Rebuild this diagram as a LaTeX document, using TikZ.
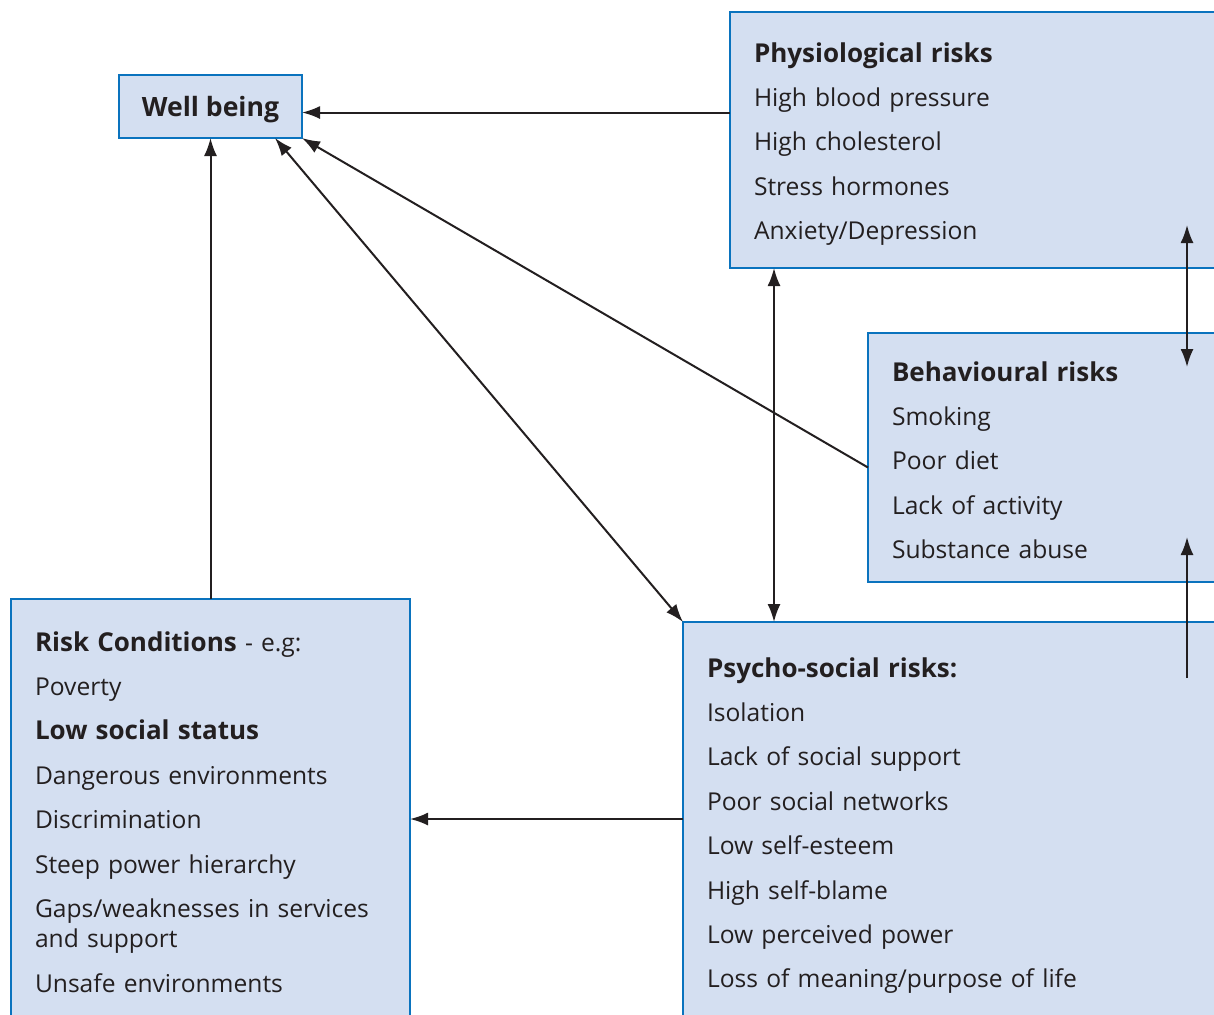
\documentclass[tikz,border=0pt]{standalone}
\usepackage{fontspec}
\setmainfont{Open Sans}
\usetikzlibrary{arrows.meta,positioning}
\definecolor{boxfill}{RGB}{212,223,241}
\definecolor{boxline}{RGB}{10,115,190}
\definecolor{ink}{RGB}{35,31,32}
\newcommand{\bfhead}[1]{{\fontsize{13}{22}\selectfont\bfseries #1}}

\begin{document}
\begin{tikzpicture}[
  x=0.5pt, y=0.5pt,
  font=\fontsize{12.3}{22.2}\selectfont,
  box/.style={draw=boxline, fill=boxfill, line width=1pt, align=left, inner xsep=12pt, inner ysep=0pt, outer sep=0pt, text=ink},
  arrow/.style={-{Latex[length=9pt,width=6.5pt]}, line width=1pt, draw=ink},
  biarrow/.style={arrow, {Latex[length=9pt,width=6.5pt]}-{Latex[length=9pt,width=6.5pt]}}
]
\useasboundingbox (0,0) rectangle (1214,-1014);
\clip (0,0) rectangle (1214,-1014);

\node[box, anchor=north west, align=center, inner xsep=0pt, minimum width=91.5pt, text height=20.5pt, text depth=11pt] (wb) at (119,-75) {\fontsize{13.3}{22}\selectfont\bfseries Well being};

\node[box, anchor=north west, text width=236pt, text height=25pt, text depth=103pt] (phys) at (730,-12) {
  \bfhead{Physiological risks}\\
  High blood pressure\\
  High cholesterol\\
  Stress hormones\\
  Anxiety/Depression
};
\node[box, text width=200pt, text height=24pt, text depth=100.5pt, below right=32.5pt and 69pt of phys.south west] (behav) {
  \bfhead{Behavioural risks}\\
  Smoking\\
  Poor diet\\
  Lack of activity\\
  Substance abuse
};
\node[box, text width=280pt, text height=27.5pt, text depth=200pt, below right=20pt and -92.5pt of behav.south west] (psycho) {
  \bfhead{Psycho-social risks:}\\
  Isolation\\
  Lack of social support\\
  Poor social networks\\
  Low self-esteem\\
  High self-blame\\
  Low perceived power\\
  Loss of meaning/purpose of life
};
\node[box, text width=175.5pt, text height=26pt, text depth=200pt, below right=230.5pt and -54pt of wb.south west] (risk) {
  \bfhead{Risk Conditions} - e.g:\\
  Poverty\\
  \bfhead{Low social status}\\
  Dangerous environments\\
  Discrimination\\
  Steep power hierarchy\\
  Gaps/weaknesses in services\\[-7pt]
  and support\\
  Unsafe environments
};

\coordinate (pb) at ([xshift=159.5pt]behav.north west);

\draw[arrow] ([yshift=-3pt]phys.west |- wb.east) -- ([yshift=-3pt]wb.east);
\draw[arrow] ([yshift=-5pt]behav.west) -- (wb.south east);
\draw[biarrow] ([xshift=-13.5pt]wb.south east) -- (psycho.north west);
\draw[arrow] (risk.north) -- (wb.south);
\draw[biarrow] ([xshift=22pt]phys.south west) -- ([xshift=22pt]phys.south west |- psycho.north);
\draw[biarrow] ([yshift=21.5pt]pb |- phys.south) -- ([yshift=-17pt]pb);
\draw[arrow] ([yshift=-28pt]pb |- psycho.north) -- ([yshift=22.5pt]pb |- behav.south);
\draw[arrow] ([yshift=-110pt]risk.north east -| psycho.west) -- ([yshift=-110pt]risk.north east);

\end{tikzpicture}
\end{document}
